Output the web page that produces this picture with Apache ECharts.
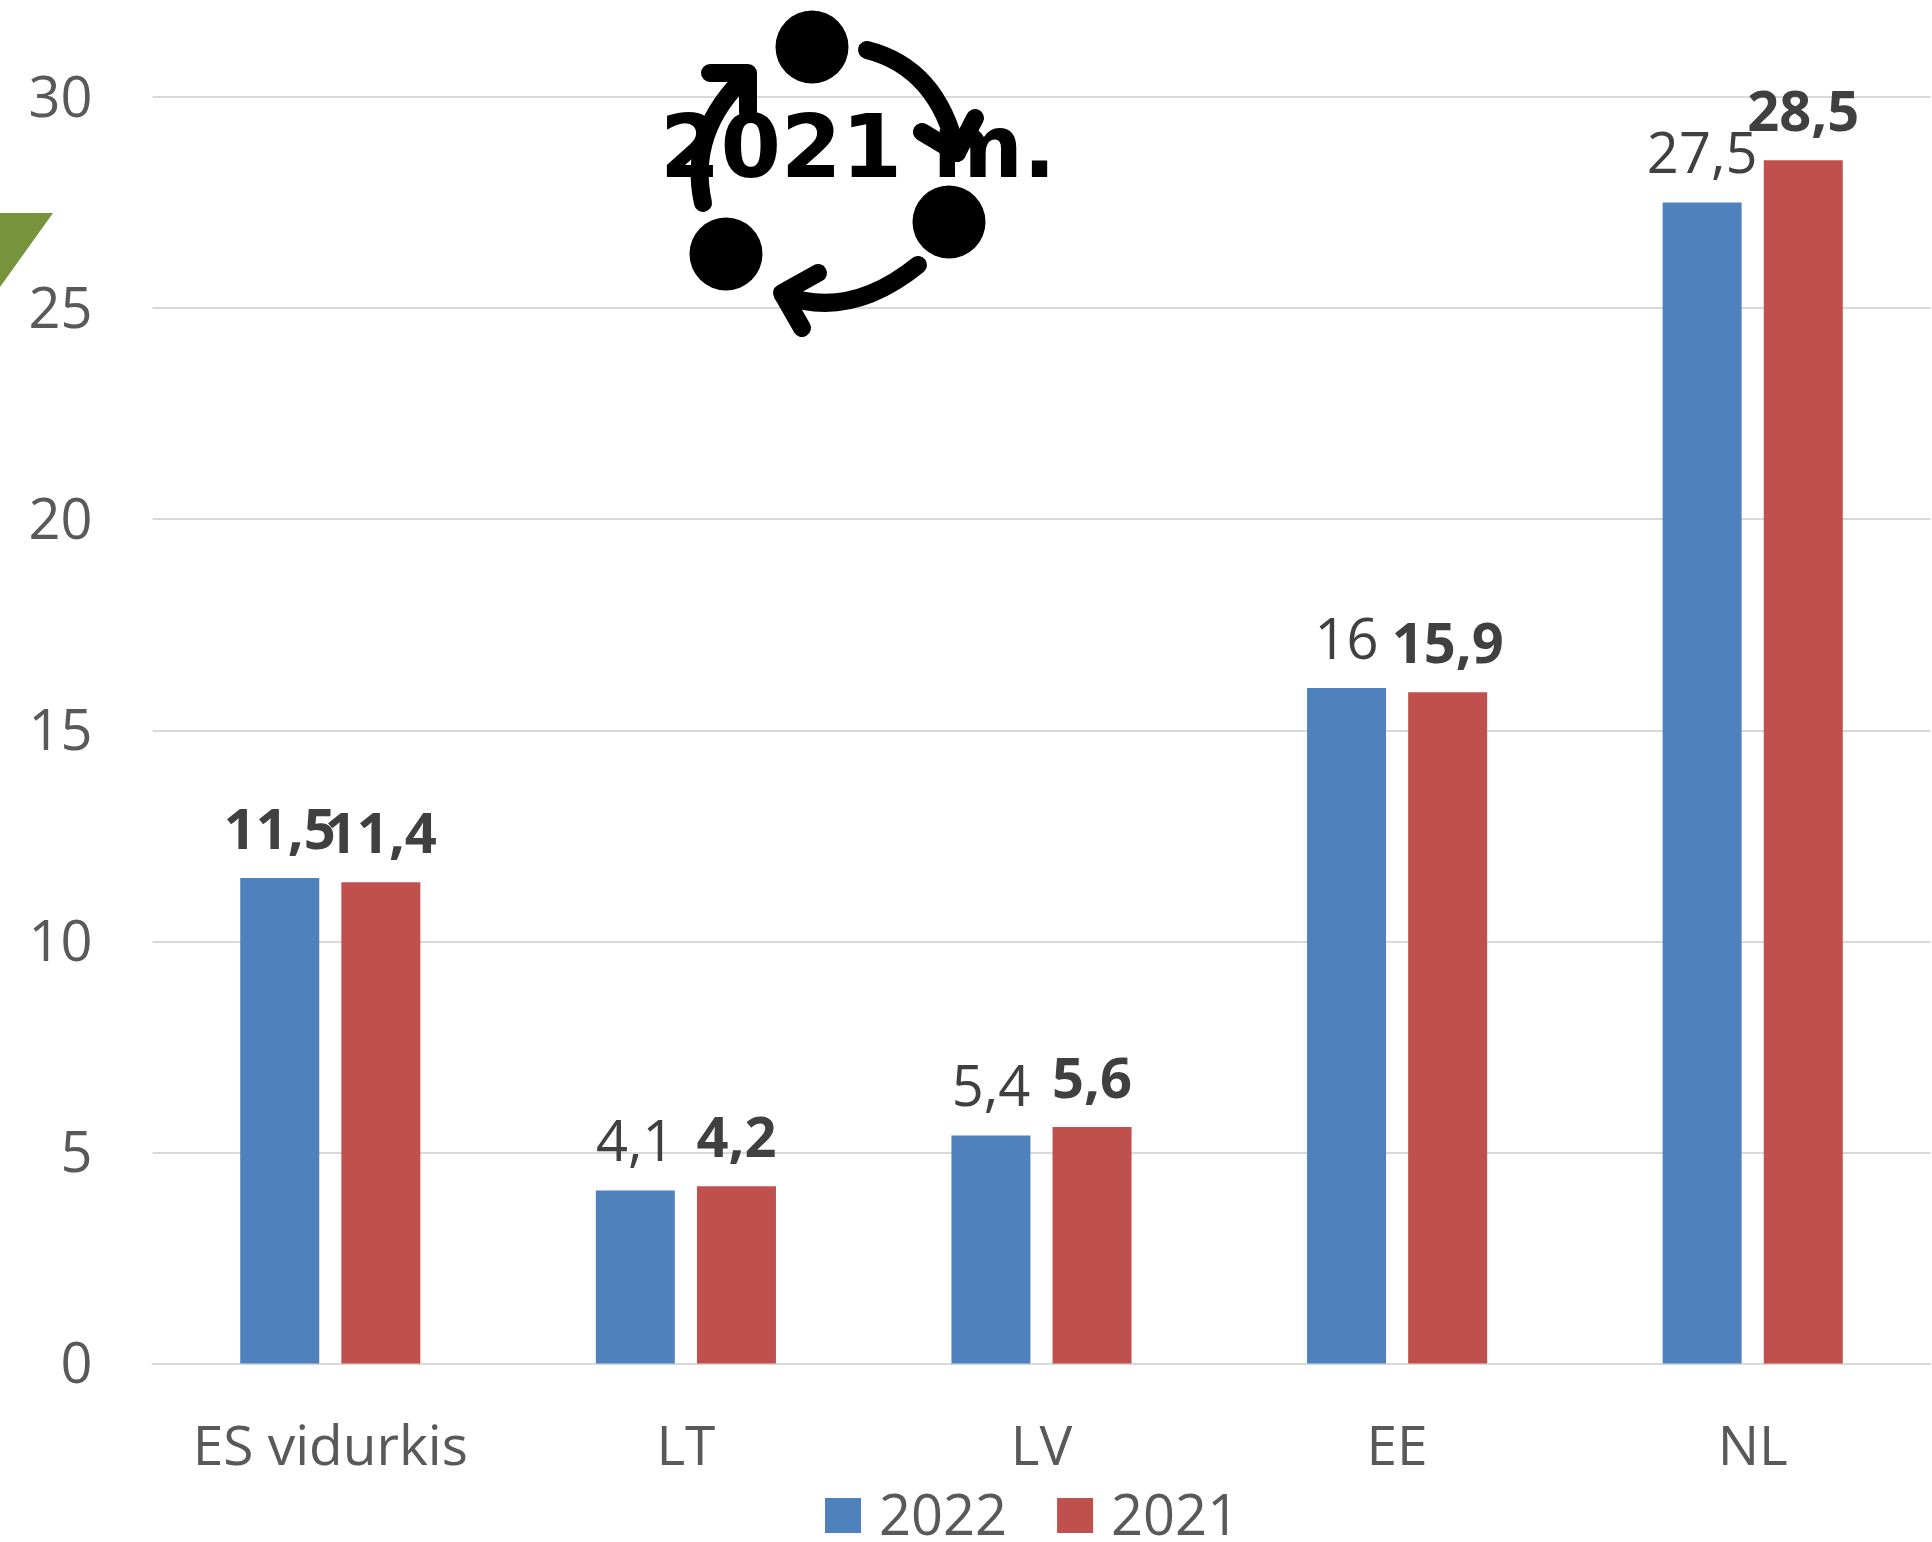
<!DOCTYPE html>
<html>
<head>
<meta charset="utf-8">
<style>
  html, body { margin: 0; padding: 0; background: #fff; }
  #chart { width: 1932px; height: 1542px; }
</style>
<script src="https://cdn.jsdelivr.net/npm/echarts@6/dist/echarts.min.js"></script>
</head>
<body>
<div id="chart"></div>
<script>
const categories = ['ES vidurkis', 'LT', 'LV', 'EE', 'NL'];
const values2022 = [11.5, 4.1, 5.4, 16, 27.5];
const values2021 = [11.4, 4.2, 5.6, 15.9, 28.5];
const bold2022 = [true, false, false, false, false];
const seriesNames = ['2022', '2021'];

const FONT = '"Open Sans", sans-serif';
const TEXT_GREY = '#595959';
const LABEL_GREY = '#404040';

const chart = echarts.init(document.getElementById('chart'), null, { renderer: 'canvas' });

const formatValue = (v) => String(v).replace('.', ',');

// bold flags differ per bar on the 2022 series, so items carry their own label weight
const toItems = (values, bolds) => values.map((v, i) => ({
  value: v,
  label: { fontWeight: bolds[i] ? 'bold' : 'normal' },
}));

const dot = (cx, cy) => ({
  type: 'circle',
  shape: { cx, cy, r: 36.5 },
  style: { fill: '#000' },
  z: 10,
});
const iconStroke = { stroke: '#000', lineWidth: 18, lineCap: 'round', lineJoin: 'round', fill: 'none' };
const arc = (x1, y1, cpx1, cpy1, x2, y2) => ({
  type: 'bezierCurve',
  shape: { x1, y1, cpx1, cpy1, x2, y2 },
  style: iconStroke,
  z: 10,
});
const head = (points) => ({
  type: 'polyline',
  shape: { points },
  style: iconStroke,
  z: 10,
});

chart.setOption({
  backgroundColor: '#fff',
  animation: false,
  textStyle: { fontFamily: FONT },
  grid: { left: 152.5, right: 1.5, top: 97, bottom: 178.5, containLabel: false },
  legend: {
    left: 825,
    top: 1491.5,
    padding: 0,
    itemWidth: 36,
    itemHeight: 35,
    itemGap: 50,
    icon: 'rect',
    formatter: '{a|{name}}',
    textStyle: {
      color: TEXT_GREY,
      fontSize: 56,
      fontFamily: FONT,
      padding: [0, 0, 0, 13],
      rich: { a: { color: TEXT_GREY, fontSize: 56, fontFamily: FONT, padding: [8, 0, 0, 0] } },
    },
    data: seriesNames,
  },
  xAxis: {
    type: 'category',
    data: categories,
    axisTick: { show: false },
    axisLine: { lineStyle: { color: '#D9D9D9', width: 2 } },
    axisLabel: { color: TEXT_GREY, fontSize: 55, margin: 58, interval: 0, fontFamily: FONT },
  },
  yAxis: {
    type: 'value',
    min: 0,
    max: 30,
    interval: 5,
    axisLine: { show: false },
    axisTick: { show: false },
    // short line box anchored at the top puts the digits a few px below the gridline
    axisLabel: { color: TEXT_GREY, fontSize: 56, margin: 60, verticalAlign: 'top', lineHeight: 8, fontFamily: FONT },
    splitLine: { lineStyle: { color: '#D9D9D9', width: 2 } },
  },
  series: [
    {
      name: seriesNames[0],
      type: 'bar',
      barWidth: 79,
      barGap: '28%',
      itemStyle: { color: '#4F81BD' },
      label: {
        show: true,
        position: 'top',
        distance: 17,
        color: LABEL_GREY,
        fontSize: 56,
        fontFamily: FONT,
        formatter: (p) => formatValue(p.value),
      },
      data: toItems(values2022, bold2022),
    },
    {
      name: seriesNames[1],
      type: 'bar',
      barWidth: 79,
      itemStyle: { color: '#C0504D' },
      label: {
        show: true,
        position: 'top',
        distance: 17,
        color: LABEL_GREY,
        fontSize: 56,
        fontWeight: 'bold',
        fontFamily: FONT,
        formatter: (p) => formatValue(p.value),
      },
      data: values2021,
    },
  ],
  graphic: [
    // green corner of the slide behind the chart
    {
      type: 'polygon',
      shape: { points: [[0, 213], [53, 213], [0, 287]] },
      style: { fill: '#77933C' },
    },
    {
      type: 'text',
      x: 660,
      y: 198,
      style: {
        text: '2021 m.',
        font: 'bold 87px "DejaVu Sans"',
        fill: '#000',
        textVerticalAlign: 'bottom',
      },
      z: 9,
    },
    dot(812, 47),
    dot(949, 222),
    dot(726, 254),
    arc(867, 50, 938, 68, 957, 153),
    head([[922, 132], [957, 153], [975, 118]]),
    arc(918, 265, 850, 320, 783, 295),
    head([[818, 273], [782, 293], [802, 328]]),
    arc(703, 203, 687, 131, 747, 75),
    head([[710, 73], [748, 73], [748, 112]]),
  ],
});
</script>
</body>
</html>
